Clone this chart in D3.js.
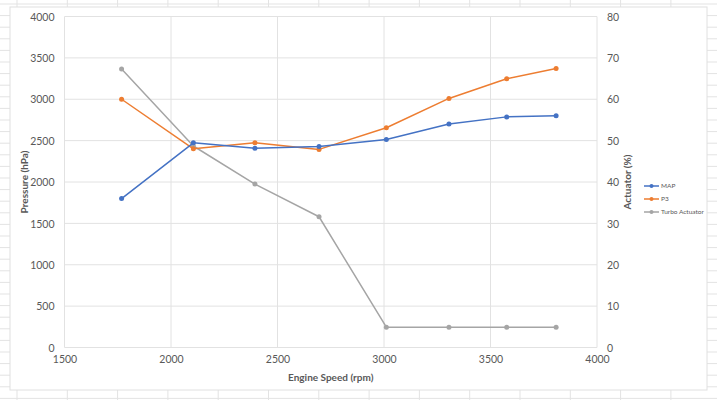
<!DOCTYPE html>
<html><head><meta charset="utf-8">
<script src="https://cdn.jsdelivr.net/npm/d3@7"></script>
<style>
html,body{margin:0;padding:0;background:#fff;}
text{font-family:Lato,"Open Sans","Liberation Sans",sans-serif;}
</style></head>
<body><svg id="c" width="717" height="400"></svg>
<script>
const rpm = [1768, 2105, 2394, 2695, 3011, 3305, 3576, 3808];
const mapValues = [1800, 2473, 2409, 2430, 2514, 2702, 2787, 2800];
const p3Values = [3000, 2401, 2473, 2394, 2655, 3010, 3247, 3372];
const turboValues = [67.3, 48.7, 39.5, 31.6, 4.9, 4.9, 4.9, 4.9];
const xTicks = [1500, 2000, 2500, 3000, 3500, 4000];
const yTicks = [0, 500, 1000, 1500, 2000, 2500, 3000, 3500, 4000];
const y2Ticks = [0, 10, 20, 30, 40, 50, 60, 70, 80];
const seriesNames = ["MAP", "P3", "Turbo Actuator"];
const colors = ["#4472C4", "#ED7D31", "#A5A5A5"];

const svg = d3.select("#c");
// spreadsheet background cells
const bg = svg.append("g");
for (let x = 17; x < 717; x += 50.3) bg.append("line").attr("x1", x).attr("x2", x).attr("y1", 0).attr("y2", 400).attr("stroke", "#e3e3e3");
for (let y = 4; y < 400; y += 11.6) bg.append("line").attr("x1", 0).attr("x2", 717).attr("y1", y).attr("y2", y).attr("stroke", "#e3e3e3");
// chart area
svg.append("rect").attr("x", 10).attr("y", 7).attr("width", 697).attr("height", 383)
  .attr("fill", "#fff").attr("stroke", "#e0e0e0");

const x = d3.scaleLinear().domain([1500, 4000]).range([64.5, 597]);
const y = d3.scaleLinear().domain([0, 4000]).range([347.5, 16.5]);
const y2 = d3.scaleLinear().domain([0, 80]).range([347.5, 16.5]);

const grid = svg.append("g");
grid.selectAll(".hg").data(yTicks).enter().append("line")
  .attr("x1", x(1500)).attr("x2", x(4000)).attr("y1", d => y(d)).attr("y2", d => y(d))
  .attr("stroke", "#e2e2e2").attr("stroke-width", 1);
grid.selectAll(".vg").data(xTicks).enter().append("line")
  .attr("y1", y(0)).attr("y2", y(4000)).attr("x1", d => x(d)).attr("x2", d => x(d))
  .attr("stroke", "#e2e2e2").attr("stroke-width", 1);

const tickStyle = s => s.attr("fill", "#595959").attr("font-size", "10.5px");
// left axis
const ya = svg.append("g").attr("transform", `translate(${x(1500) - 10},0)`)
  .call(d3.axisLeft(y).tickValues(yTicks).tickSize(0).tickPadding(0).tickFormat(d3.format("d")));
ya.select(".domain").remove();
ya.selectAll("text").call(tickStyle).attr("dy", "0.35em");
// right axis
const y2a = svg.append("g").attr("transform", `translate(${x(4000) + 10},0)`)
  .call(d3.axisRight(y2).tickValues(y2Ticks).tickSize(0).tickPadding(0).tickFormat(d3.format("d")));
y2a.select(".domain").remove();
y2a.selectAll("text").call(tickStyle).attr("dy", "0.35em");
// bottom axis
const xa = svg.append("g").attr("transform", `translate(0,${y(0) + 8})`)
  .call(d3.axisBottom(x).tickValues(xTicks).tickSize(0).tickPadding(0).tickFormat(d3.format("d")));
xa.select(".domain").remove();
xa.selectAll("text").call(tickStyle).attr("dy", "0.71em");

// axis titles
svg.append("text").attr("transform", `translate(28,${(y(0) + y(4000)) / 2}) rotate(-90)`)
  .attr("text-anchor", "middle").attr("font-size", "10px").attr("font-weight", "bold").attr("fill", "#595959")
  .text("Pressure (hPa)");
svg.append("text").attr("transform", `translate(631,${(y(0) + y(4000)) / 2}) rotate(-90)`)
  .attr("text-anchor", "middle").attr("font-size", "10px").attr("font-weight", "bold").attr("fill", "#595959")
  .text("Actuator (%)");
svg.append("text").attr("x", (x(1500) + x(4000)) / 2).attr("y", 381)
  .attr("text-anchor", "middle").attr("font-size", "10px").attr("font-weight", "bold").attr("fill", "#595959")
  .text("Engine Speed (rpm)");

// series
const series = [
  {vals: mapValues, sc: y},
  {vals: p3Values, sc: y},
  {vals: turboValues, sc: y2}
];
const plotOrder = [2, 1, 0];
plotOrder.forEach(i => {
  const s = series[i];
  const pts = rpm.map((r, k) => [x(r), s.sc(s.vals[k])]);
  svg.append("path").attr("d", d3.line()(pts)).attr("fill", "none")
    .attr("stroke", colors[i]).attr("stroke-width", 1.5).attr("stroke-linejoin", "round");
  svg.append("g").selectAll("circle").data(pts).enter().append("circle")
    .attr("cx", d => d[0]).attr("cy", d => d[1]).attr("r", 2.5).attr("fill", colors[i]);
});

// legend
const lg = svg.append("g");
seriesNames.forEach((n, i) => {
  const ly = 186 + i * 13;
  lg.append("line").attr("x1", 644).attr("x2", 659).attr("y1", ly).attr("y2", ly)
    .attr("stroke", colors[i]).attr("stroke-width", 1.5);
  lg.append("circle").attr("cx", 651.5).attr("cy", ly).attr("r", 2).attr("fill", colors[i]);
  lg.append("text").attr("x", 661).attr("y", ly).attr("dy", "0.35em")
    .attr("font-size", "6.5px").attr("fill", "#595959").text(n);
});
</script>
</body></html>
